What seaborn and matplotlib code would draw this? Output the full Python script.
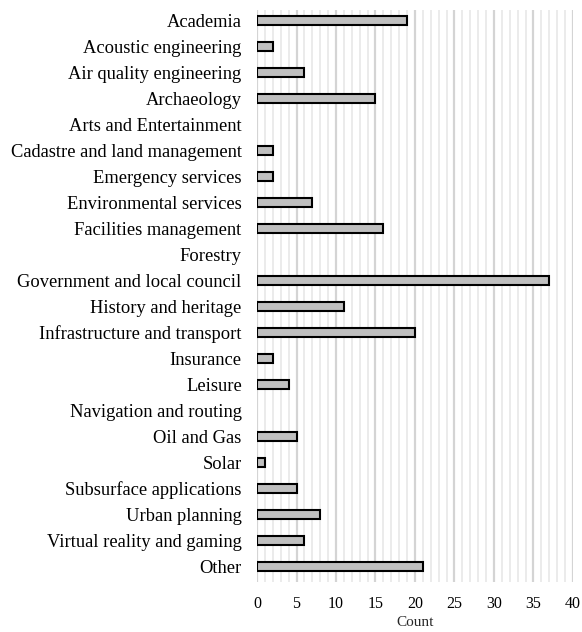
import pandas as pd
import matplotlib.pyplot as plt
import seaborn as sns
from matplotlib.ticker import MultipleLocator

# categories and counts
categories = ['Academia', 'Acoustic engineering', 'Air quality engineering', 'Archaeology',
              'Arts and Entertainment', 'Cadastre and land management', 'Emergency services',
              'Environmental services', 'Facilities management', 'Forestry',
              'Government and local council', 'History and heritage',
              'Infrastructure and transport', 'Insurance', 'Leisure', 'Navigation and routing',
              'Oil and Gas', 'Solar', 'Subsurface applications', 'Urban planning',
              'Virtual reality and gaming', 'Other']
counts = [19, 2, 6, 15, 0, 2, 2, 7, 16, 0, 37, 11, 20, 2, 4, 0, 5, 1, 5, 8, 6, 21]

dados = pd.DataFrame({'category': categories, 'count': counts})

sns.set_style("white")
plt.rcParams['font.family'] = ['Liberation Serif', 'DejaVu Serif']

fig = plt.figure(figsize=(5.82, 6.32), dpi=100)
ax = fig.add_axes([0.4416, 0.079, 0.5429, 0.905])

sns.barplot(data=dados, x='count', y='category', color='#bfbfbf', edgecolor='black',
            linewidth=1.5, width=0.38, saturation=1, ax=ax, zorder=3)

# hide the outline of empty bars
for p in ax.patches:
    if p.get_width() == 0:
        p.set_linewidth(0)

# grid lines: light every 1, darker every 5
ax.set_xlim(0, 40)
ax.xaxis.set_major_locator(MultipleLocator(5))
ax.xaxis.set_minor_locator(MultipleLocator(1))
ax.grid(which='minor', axis='x', color='#e8e8e8', linewidth=1.2, zorder=0)
ax.grid(which='major', axis='x', color='#d4d4d4', linewidth=1.6, zorder=0)
ax.set_axisbelow(True)
ax.set_ylim(21.6, -0.4)

for s in ax.spines.values():
    s.set_visible(False)

ax.tick_params(axis='both', which='both', length=0, colors='black')
ax.tick_params(axis='x', pad=10, labelsize=11.5)
ax.tick_params(axis='y', pad=11, labelsize=13.3)

ax.set_xlabel('Count', fontsize=11, labelpad=3)
ax.set_ylabel('')

plt.savefig('out.png', dpi=100)
